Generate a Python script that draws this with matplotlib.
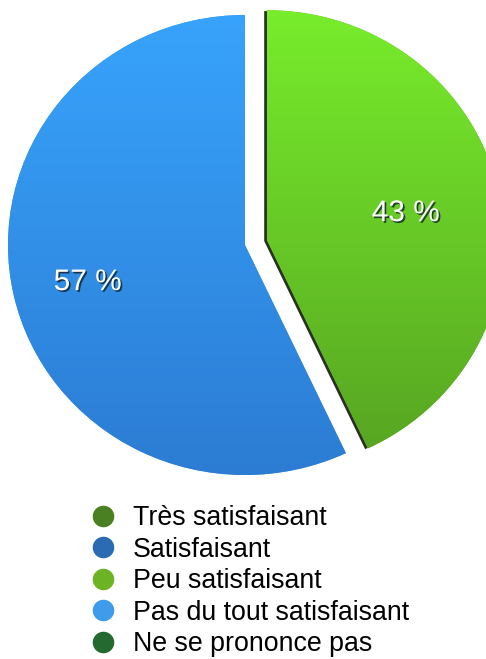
import numpy as np
import matplotlib
matplotlib.use('Agg')
import matplotlib.pyplot as plt
import matplotlib.patheffects as pe
from matplotlib.lines import Line2D
from matplotlib.colors import LinearSegmentedColormap

plt.rcParams['font.family'] = ['Liberation Sans', 'DejaVu Sans']

# --------------------------------------------------------------------------
# data

categories = ['Très satisfaisant', 'Satisfaisant', 'Peu satisfaisant',
              'Pas du tout satisfaisant', 'Ne se prononce pas']
percentages = [0, 0, 43, 57, 0]
legend_colors = ['#4a8022', '#2a6bb3', '#6cb424', '#3e9ceb', '#246a30']
# gradient (top, bottom) of the slices
slice_grad = {'Peu satisfaisant': ('#78ee2c', '#55a021'),
              'Pas du tout satisfaisant': ('#38a4fd', '#2c7bd2')}
explode_of = {'Peu satisfaisant': 0.095, 'Pas du tout satisfaisant': 0.0}
label_dist = {'Peu satisfaisant': 0.6, 'Pas du tout satisfaisant': 0.68}

# --------------------------------------------------------------------------
# figure

W, H = 486, 659
cx_px, cy_px, rx_px, ry_px = 245, 245, 237, 230   # pie centre / radii in pixels

fig = plt.figure(figsize=(W / 100, H / 100), dpi=100)
ax = fig.add_axes([0, 0, 1, 1])

names = [c for c, p in zip(categories, percentages) if p > 0]
vals = [p for p in percentages if p > 0]
cols = [legend_colors[categories.index(n)] for n in names]

wedges, _ = ax.pie(vals, colors=cols, startangle=90, counterclock=False,
                   explode=[explode_of[n] for n in names], frame=False)

for w, n, v in zip(wedges, names, vals):
    top, bot = slice_grad[n]
    cmap = LinearSegmentedColormap.from_list(n, [bot, top])
    grad = np.linspace(1, 0, 256).reshape(-1, 1)
    if n == 'Peu satisfaisant':
        w.set_path_effects([pe.SimplePatchShadow(offset=(-2.0, -0.6), shadow_rgbFace='#1d2616', alpha=0.95),
                            pe.Normal()])
    im = ax.imshow(grad, cmap=cmap, vmin=0, vmax=1, extent=(-1.2, 1.2, -1.05, 1.05),
                   aspect='auto', zorder=w.get_zorder() + 0.1, interpolation='bilinear')
    im.set_clip_path(w)

    # percentage labels
    ang = np.deg2rad((w.theta1 + w.theta2) / 2)
    cx, cy = w.center
    r = label_dist[n]
    ax.text(cx + r * np.cos(ang), cy + r * np.sin(ang), f'{v} %',
            ha='center', va='center_baseline', color='white', fontsize=21.5, zorder=5,
            path_effects=[pe.withSimplePatchShadow(offset=(1.2, -1.2), shadow_rgbFace='#10202a', alpha=0.8)])

ax.set_xlim(-cx_px / rx_px, (W - cx_px) / rx_px)
ax.set_ylim((cy_px - H) / ry_px, cy_px / ry_px)
ax.axis('off')

# --------------------------------------------------------------------------
# legend

handles = [Line2D([], [], marker='o', linestyle='', markersize=14.5, color=c)
           for c in legend_colors]
fig.legend(handles, categories, loc='upper left', bbox_to_anchor=(0.172, 0.233),
           frameon=False, fontsize=19.3, handlelength=1.45, handletextpad=0.4,
           labelspacing=0.2, borderpad=0, borderaxespad=0)

fig.savefig('out.png', dpi=100)
